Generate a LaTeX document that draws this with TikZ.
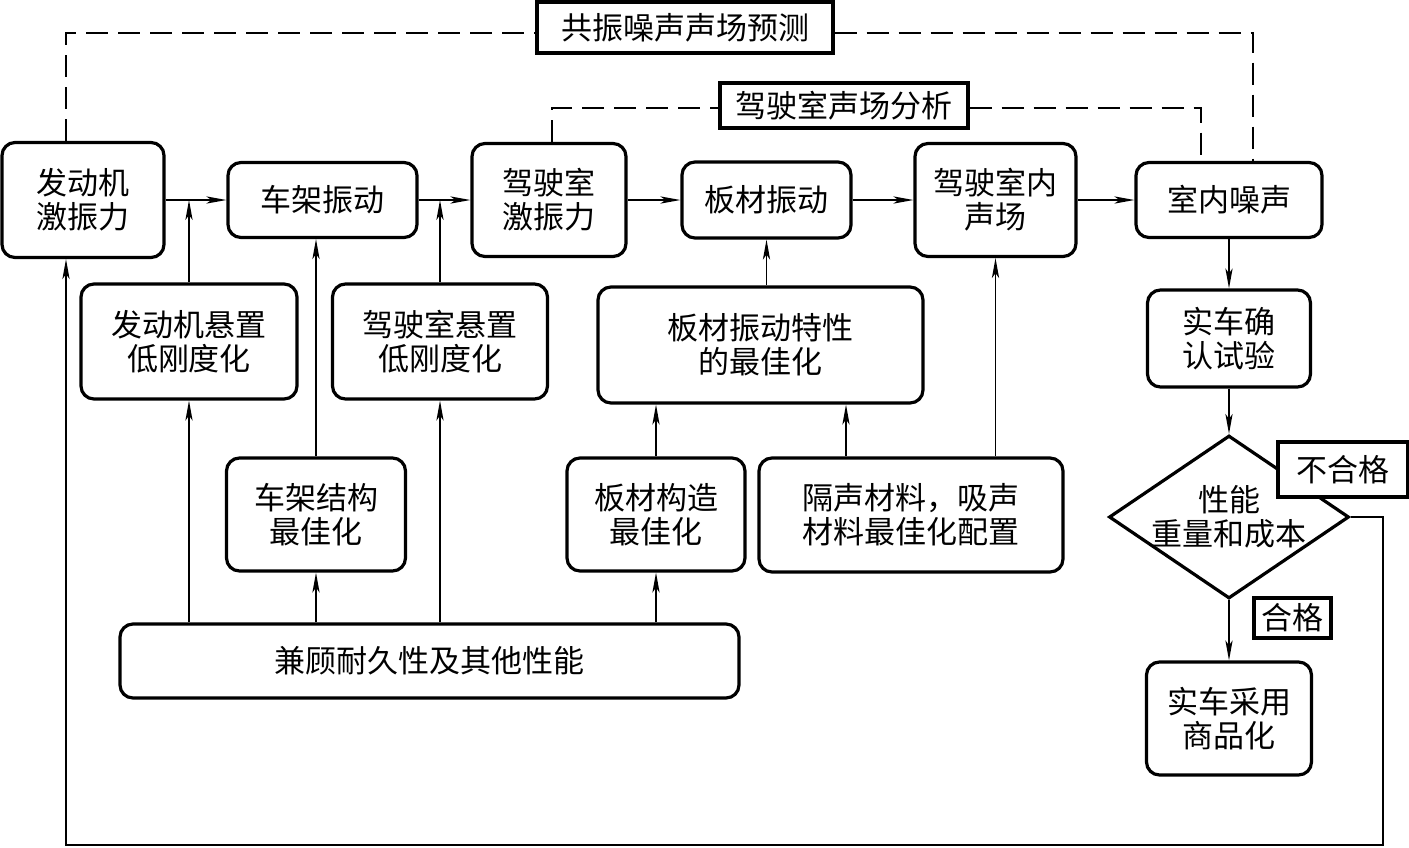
\documentclass[tikz,border=0pt]{standalone}
\usepackage{fontspec}
\setmainfont{Noto Sans CJK SC}
\usetikzlibrary{arrows.meta,shapes.geometric,calc}

\tikzset{
  blk/.style={draw, line width=1.6pt, rounded corners=6.5pt, align=center,
    inner sep=0pt, font=\fontsize{15.5}{17}\selectfont},
  tag/.style={draw, line width=1.6pt, fill=white, inner sep=0pt,
    font=\fontsize{15.5}{17}\selectfont},
  arr/.style={line width=0.75pt, -{Stealth[length=10pt,width=3.6pt,inset=2.5pt]}},
  dline/.style={line width=0.75pt, dash pattern=on 11pt off 5pt},
}

\begin{document}
\begin{tikzpicture}[x=0.5pt, y=-0.5pt]
  \useasboundingbox (0,0) rectangle (1409,847);

  % main chain
  \node[blk, minimum width=81pt, minimum height=57.5pt] (engine) at (83,200) {发动机\\激振力};
  \node[blk, minimum width=94.5pt, minimum height=37.5pt] (frame) at (322.5,200) {车架振动};
  \node[blk, minimum width=77pt, minimum height=56.5pt] (cab) at (549,200) {驾驶室\\激振力};
  \node[blk, minimum width=84.5pt, minimum height=38pt] (pvib) at (766.5,200) {板材振动};
  \node[blk, minimum width=80.5pt, minimum height=56.5pt] (cabsnd) at (995.5,200) {驾驶室内\\声场};
  \node[blk, minimum width=93pt, minimum height=37.5pt] (noise) at (1229,200) {室内噪声};

  % measures
  \node[blk, minimum width=108pt, minimum height=57.5pt] (emount) at (189,341.5) {发动机悬置\\低刚度化};
  \node[blk, minimum width=107.5pt, minimum height=57.5pt] (cmount) at (440,341.5) {驾驶室悬置\\低刚度化};
  \node[blk, minimum width=162.5pt, minimum height=58pt] (popt) at (760.5,345) {板材振动特性\\的最佳化};
  \node[blk, minimum width=89.5pt, minimum height=56.5pt] (fstruct) at (316,514.5) {车架结构\\最佳化};
  \node[blk, minimum width=89pt, minimum height=56.5pt] (pstruct) at (656,514.5) {板材构造\\最佳化};
  \node[blk, minimum width=152pt, minimum height=57pt] (insul) at (911,515) {隔声材料，吸声\\材料最佳化配置};
  \node[blk, minimum width=309.5pt, minimum height=37pt] (durab) at (429.5,661) {兼顾耐久性及其他性能};

  % check loop
  \node[blk, minimum width=81.5pt, minimum height=48.5pt] (test) at (1229,338.5) {实车确\\认试验};
  \node[draw, diamond, line width=1.6pt, minimum width=120pt, minimum height=81.5pt, inner sep=0pt] (check) at (1229,517) {};
  \node[align=center, font=\fontsize{15.5}{17}\selectfont] (checktxt) at (check) {性能\\重量和成本};
  \node[tag, minimum width=65pt, minimum height=27.5pt] (fail) at (1343,469.5) {不合格};
  \node[tag, minimum width=38.5pt, minimum height=20pt] (pass) at (1292.5,618) {合格};
  \node[blk, minimum width=82.5pt, minimum height=56.5pt] (adopt) at (1229,718.5) {实车采用\\商品化};

  % analysis tags
  \node[tag, minimum width=148pt, minimum height=25.5pt] (resp) at (685,27.5) {共振噪声声场预测};
  \node[tag, minimum width=124pt, minimum height=22.5pt] (ana) at (844,105.5) {驾驶室声场分析};

  \coordinate (topl) at (66,33);
  \coordinate (topr) at (1253,33);
  \coordinate (midl) at (552,108);
  \coordinate (midr) at (1201,108);
  \coordinate (fbr) at (1383,845);
  \coordinate (fbl) at (66,845);

  \draw[arr] (engine) -- (frame);
  \draw[arr] (frame) -- (cab);
  \draw[arr] (cab) -- (pvib);
  \draw[arr] (pvib) -- (cabsnd);
  \draw[arr] (cabsnd) -- (noise);
  \draw[arr] (noise) -- (test);
  \draw[arr] (test) -- (check);
  \draw[arr] (check) -- (adopt);

  \draw[arr] (emount.north) -- (emount.north |- engine.east);
  \draw[arr] (cmount.north) -- (cmount.north |- cab.west);
  \draw[arr] (fstruct.north) -- (fstruct.north |- frame.south);
  \draw[arr] (popt.north -| pvib.south) -- (pvib.south);
  \draw[arr] (cabsnd.south |- insul.north) -- (cabsnd.south);

  \draw[arr] (emount.south |- durab.north) -- (emount.south);
  \draw[arr] (fstruct.south |- durab.north) -- (fstruct.south);
  \draw[arr] (cmount.south |- durab.north) -- (cmount.south);
  \draw[arr] (pstruct.south |- durab.north) -- (pstruct.south);
  \draw[arr] (pstruct.north) -- (pstruct.north |- popt.south);
  \draw[arr] ([xshift=-32.5pt]insul.north) -- ([xshift=-32.5pt]insul.north |- popt.south);

  \draw[arr] (check.east) -| (fbr) -- (fbl) -- (fbl |- engine.south);

  \draw[dline] (engine.north -| topl) -- (topl) -- (topl -| resp.west);
  \draw[dline] (resp.east |- topr) -- (topr) -- (topr |- noise.north);
  \draw[dline] (cab.north -| midl) -- (midl) -- (midl -| ana.west);
  \draw[dline] (ana.east |- midr) -- (midr) -- (midr |- noise.north);
\end{tikzpicture}
\end{document}
